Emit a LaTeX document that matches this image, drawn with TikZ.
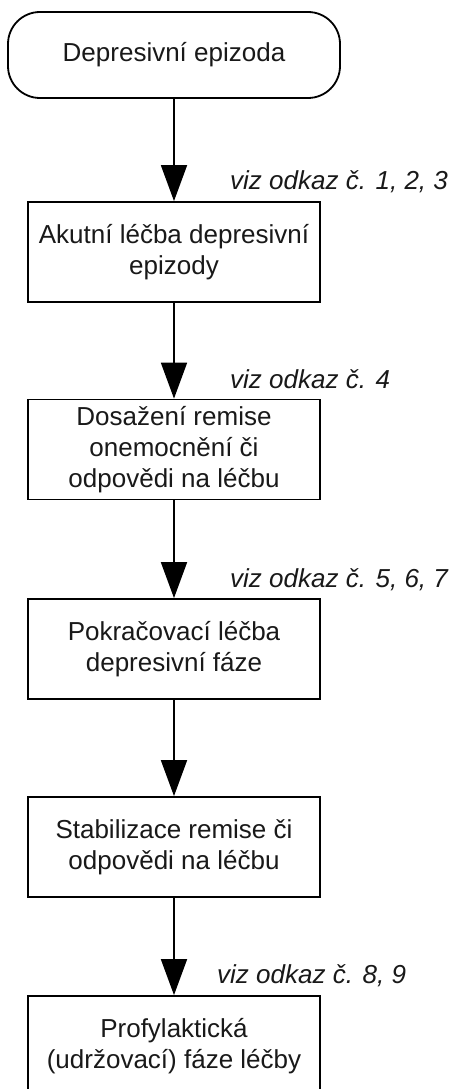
\documentclass[tikz,border=0pt]{standalone}
\usepackage{fontspec}
\setmainfont{Liberation Sans}
\usetikzlibrary{arrows.meta}
\tikzset{
  flowbox/.style={draw=black, line width=1.8pt, minimum width=292.5pt, minimum height=100pt,
    inner sep=0pt, align=center, font=\fontsize{26}{31}\selectfont, text=black!90},
  termbox/.style={flowbox, rounded corners=32pt, minimum width=332pt, minimum height=86pt},
  reflabel/.style={anchor=base west, inner sep=0pt, font=\fontsize{26}{31}\selectfont\itshape, text=black!90},
  flowarrow/.style={line width=1.8pt, -{Triangle[width=26pt,length=36pt]}}
}
\begin{document}
\begin{tikzpicture}[x=1pt,y=1pt]
\useasboundingbox (0,0) rectangle (449,-1089);
\clip (0,0) rectangle (449,-1089);
\fill[white] (0,0) rectangle (449,-1089);
\node[termbox] (t)  at (174,-55)    {Depresivní epizoda};
\node[flowbox] (b1) at (174,-252)   {Akutní léčba depresivní\\epizody};
\node[flowbox] (b2) at (174,-449.5) {Dosažení remise\\onemocnění či\\odpovědi na léčbu};
\node[flowbox] (b3) at (174,-649)   {Pokračovací léčba\\depresivní fáze};
\node[flowbox] (b4) at (174,-847)   {Stabilizace remise či\\odpovědi na léčbu};
\node[flowbox] (b5) at (174,-1046)  {Profylaktická\\(udržovací) fáze léčby};
\node[reflabel] (l1) at (230,-189) {viz odkaz č. 1, 2, 3};
\node[reflabel] (l2) at (230,-388) {viz odkaz č. 4};
\node[reflabel] (l3) at (230,-587) {viz odkaz č. 5, 6, 7};
\node[reflabel] (l4) at (217,-983) {viz odkaz č. 8, 9};
\draw[flowarrow] (t) -- (b1);
\draw[flowarrow] (b1) -- (b2);
\draw[flowarrow] (b2) -- (b3);
\draw[flowarrow] (b3) -- (b4);
\draw[flowarrow] (b4) -- (b5);
\end{tikzpicture}
\end{document}
